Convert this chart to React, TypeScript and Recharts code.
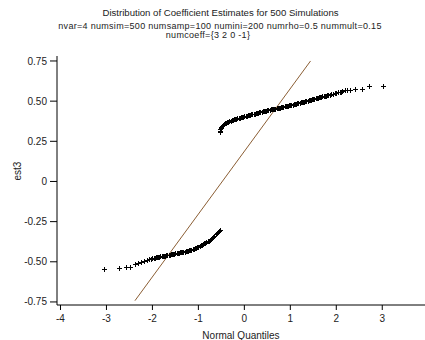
import { ScatterChart, Scatter, XAxis, YAxis, ReferenceLine } from 'recharts';

// lower group of estimates (normal quantile, est3)
const lowerQuantiles = [
  -3.05, -2.73, -2.58, -2.49, -2.38, -2.31, -2.24, -2.18, -2.12, -2.07, -2.035,
  -2.0, -1.975, -1.95, -1.925, -1.9, -1.875, -1.85, -1.825, -1.8, -1.775, -1.75, -1.725, -1.7, -1.675, -1.65,
  -1.625, -1.6, -1.575, -1.55, -1.525, -1.5, -1.475, -1.45, -1.425, -1.4, -1.375, -1.35, -1.325, -1.3, -1.275,
  -1.25, -1.225, -1.2, -1.175, -1.15, -1.125, -1.1, -1.075, -1.05, -1.025, -1.0, -0.975, -0.95, -0.925, -0.9,
  -0.875, -0.85, -0.825, -0.8, -0.775, -0.75, -0.725, -0.7, -0.675, -0.65, -0.625, -0.6, -0.575, -0.55, -0.535,
];
const lowerEstimates = [
  -0.545, -0.54, -0.534, -0.53, -0.515, -0.509, -0.5, -0.495, -0.488, -0.484, -0.481,
  -0.478, -0.476, -0.475, -0.473, -0.472, -0.47, -0.469, -0.467, -0.466, -0.464, -0.463, -0.461, -0.46, -0.458, -0.457,
  -0.455, -0.454, -0.452, -0.451, -0.449, -0.448, -0.446, -0.445, -0.443, -0.442, -0.44, -0.439, -0.437, -0.436, -0.434,
  -0.432, -0.43, -0.428, -0.426, -0.424, -0.421, -0.418, -0.415, -0.412, -0.409, -0.405, -0.402, -0.398, -0.394, -0.39,
  -0.386, -0.382, -0.377, -0.373, -0.368, -0.363, -0.357, -0.351, -0.345, -0.338, -0.33, -0.323, -0.315, -0.307, -0.3,
];

// upper group
const upperQuantiles = [
  -0.53, -0.525, -0.52, -0.51, -0.5, -0.485, -0.47, -0.45,
  -0.425, -0.4, -0.375, -0.35, -0.325, -0.3, -0.275, -0.25, -0.225, -0.2, -0.175, -0.15, -0.125, -0.1, -0.075,
  -0.05, -0.025, 0, 0.025, 0.05, 0.075, 0.1, 0.125, 0.15, 0.175, 0.2, 0.225, 0.25, 0.275, 0.3, 0.325, 0.35,
  0.375, 0.4, 0.425, 0.45, 0.475, 0.5, 0.525, 0.55, 0.575, 0.6, 0.625, 0.65, 0.675, 0.7, 0.725, 0.75, 0.775,
  0.8, 0.825, 0.85, 0.875, 0.9, 0.925, 0.95, 0.975, 1.0, 1.025, 1.05, 1.075, 1.1, 1.125, 1.15, 1.175, 1.2,
  1.225, 1.25, 1.275, 1.3, 1.325, 1.35, 1.375, 1.4, 1.425, 1.45, 1.475, 1.5, 1.525, 1.55, 1.575, 1.6, 1.625,
  1.65, 1.675, 1.7, 1.725, 1.75, 1.775, 1.8, 1.83, 1.86, 1.895, 1.93, 1.965, 2.0,
  2.04, 2.07, 2.1, 2.13, 2.18, 2.24, 2.29, 2.4, 2.55, 2.71, 3.02,
];
const upperEstimates = [
  0.305, 0.315, 0.325, 0.335, 0.342, 0.348, 0.353, 0.358,
  0.362, 0.366, 0.369, 0.372, 0.375, 0.378, 0.381, 0.384, 0.386, 0.389, 0.391, 0.393, 0.395, 0.397, 0.399,
  0.401, 0.403, 0.405, 0.407, 0.409, 0.411, 0.413, 0.415, 0.417, 0.419, 0.421, 0.423, 0.425, 0.427, 0.429, 0.431, 0.433,
  0.434, 0.436, 0.438, 0.439, 0.441, 0.443, 0.444, 0.446, 0.448, 0.449, 0.451, 0.452, 0.454, 0.455, 0.457, 0.459, 0.46,
  0.462, 0.464, 0.465, 0.467, 0.469, 0.47, 0.472, 0.474, 0.475, 0.477, 0.479, 0.481, 0.482, 0.484, 0.486, 0.488, 0.49,
  0.492, 0.494, 0.496, 0.497, 0.499, 0.501, 0.503, 0.505, 0.507, 0.509, 0.511, 0.513, 0.515, 0.517, 0.519, 0.521, 0.523,
  0.525, 0.527, 0.529, 0.531, 0.533, 0.535, 0.537, 0.539, 0.541, 0.543, 0.546, 0.549, 0.551,
  0.554, 0.556, 0.559, 0.562, 0.567, 0.569, 0.571, 0.575, 0.577, 0.597, 0.597,
];

// reference line endpoints (quantile, estimate)
const refLine = [
  { x: -2.38, y: -0.742 },
  { x: 1.44, y: 0.75 },
];

const xTicks = [-4, -3, -2, -1, 0, 1, 2, 3];
const yTicks = [-0.75, -0.5, -0.25, 0, 0.25, 0.5, 0.75];

const points = [
  ...lowerQuantiles.map((q, i) => ({ q, est: lowerEstimates[i] })),
  ...upperQuantiles.map((q, i) => ({ q, est: upperEstimates[i] })),
];

const FONT = 'Arial, "Liberation Sans", sans-serif';
const X_DOMAIN: [number, number] = [-4.076, 3.93];
const Y_DOMAIN: [number, number] = [-0.769, 0.781];

const Plus = (props: { cx?: number; cy?: number }) => {
  const { cx = 0, cy = 0 } = props;
  const x = Math.round(cx) + 0.5;
  const y = Math.round(cy) + 0.5;
  return <path d={`M${x - 2.5},${y}h5M${x},${y - 2.5}v5`} stroke="#000" strokeWidth={1} fill="none" />;
};

const fmtY = (v: number) => (v === 0 ? '0' : v.toFixed(2));

const titleStyle: React.CSSProperties = {
  position: 'absolute',
  width: 425,
  textAlign: 'center',
  fontFamily: FONT,
  fontSize: 9.6,
  color: '#222',
  lineHeight: '10px',
  whiteSpace: 'nowrap',
};

const subStyle: React.CSSProperties = {
  ...titleStyle,
  fontSize: 9,
  letterSpacing: '0.3px',
  lineHeight: '7px',
};

export default function App() {
  return (
    <div style={{ position: 'absolute', left: 0, top: 0, width: 425, height: 340, background: '#fff' }}>
      <div style={{ ...titleStyle, top: 8, left: 8 }}>Distribution of Coefficient Estimates for 500 Simulations</div>
      <div style={{ ...subStyle, top: 22.5, left: 7.5 }}>
        nvar=4 numsim=500 numsamp=100 numini=200 numrho=0.5 nummult=0.15
      </div>
      <div style={{ ...subStyle, top: 32, left: -4.5 }}>numcoeff={'{'}3 2 0 -1{'}'}</div>
      <ScatterChart width={425} height={340} margin={{ top: 56, right: 0, left: 0, bottom: 0 }}>
        <XAxis
          xAxisId="top"
          orientation="top"
          type="number"
          dataKey="q"
          domain={X_DOMAIN}
          allowDataOverflow
          height={0}
          tick={false}
          tickLine={false}
          axisLine={{ stroke: '#888', strokeWidth: 1.5 }}
        />
        <XAxis
          type="number"
          dataKey="q"
          domain={X_DOMAIN}
          allowDataOverflow
          ticks={xTicks}
          interval={0}
          height={35}
          tickSize={5}
          tickMargin={5}
          tick={{ fontSize: 10, fill: '#222', fontFamily: FONT }}
          axisLine={{ stroke: '#000' }}
          tickLine={{ stroke: '#000' }}
          label={{ value: 'Normal Quantiles', position: 'insideBottom', offset: 1, fontSize: 10, fill: '#222', fontFamily: FONT }}
        />
        <YAxis
          type="number"
          dataKey="est"
          domain={Y_DOMAIN}
          allowDataOverflow
          ticks={yTicks}
          interval={0}
          width={57}
          tickSize={7}
          tickMargin={3}
          tickFormatter={fmtY}
          tick={{ fontSize: 10, fill: '#222', fontFamily: FONT }}
          axisLine={{ stroke: '#000' }}
          tickLine={{ stroke: '#000' }}
          label={{ value: 'est3', angle: -90, position: 'insideLeft', offset: 17, fontSize: 10, fill: '#222', fontFamily: FONT }}
        />
        <ReferenceLine segment={refLine} stroke="#8B5E34" strokeWidth={1} ifOverflow="visible" />
        <Scatter data={points} shape={<Plus />} isAnimationActive={false} />
      </ScatterChart>
    </div>
  );
}
